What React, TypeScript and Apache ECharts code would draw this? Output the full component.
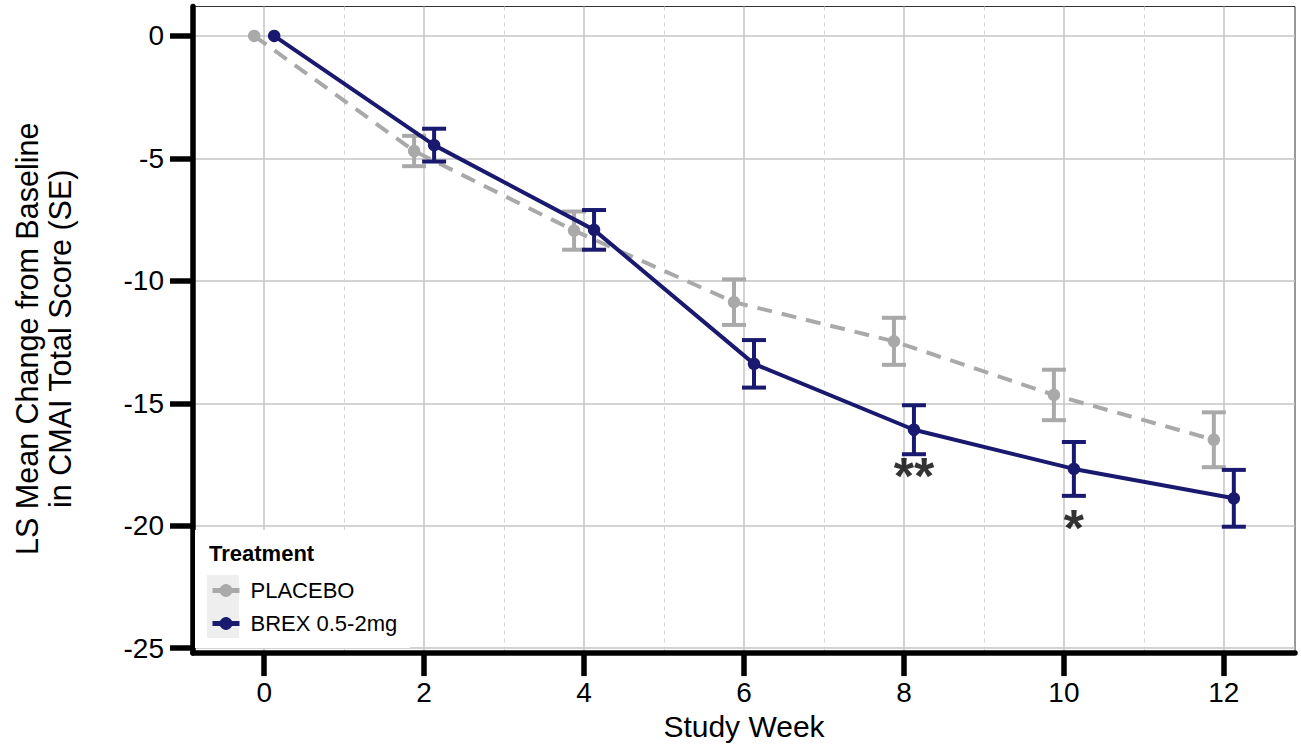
import React, { useEffect, useRef } from "react";
import * as echarts from "echarts";

const weeks = [0, 2, 4, 6, 8, 10, 12];
const placeboMean = [0, -4.7, -7.95, -10.87, -12.47, -14.66, -16.49];
const placeboSE = [0, 0.62, 0.78, 0.93, 0.96, 1.03, 1.12];
const brexMean = [0, -4.46, -7.92, -13.39, -16.08, -17.68, -18.88];
const brexSE = [0, 0.67, 0.81, 0.97, 1.0, 1.1, 1.16];
const annotWeeks = [8, 10];
const annotLabels = ["**", "*"];
const annotY = [-17.98, -20.1];
const xTicks = [0, 2, 4, 6, 8, 10, 12];
const xMinorTicks = [1, 3, 5, 7, 9, 11];
const yTicks = [-25, -20, -15, -10, -5, 0];
const seriesNames = ["PLACEBO", "BREX 0.5-2mg"];

const DODGE = 0.125;
const GRAY = "#a9a9a9";
const NAVY = "#191970";
const FONT = "Liberation Sans, Arial, sans-serif";

function errData(mean: number[], se: number[], off: number) {
  const out: number[][] = [];
  weeks.forEach((w, i) => {
    if (se[i] > 0) out.push([w + off, mean[i] - se[i], mean[i] + se[i]]);
  });
  return out;
}

function errSeries(name: string, data: number[][], color: string, z: number) {
  return {
    type: "custom",
    name,
    z,
    silent: true,
    data,
    encode: { x: 0, y: [1, 2] },
    renderItem: (params: any, api: any) => {
      const x = api.value(0);
      const lo = api.value(1);
      const hi = api.value(2);
      const t = api.coord([x, hi]);
      const b = api.coord([x, lo]);
      const hw = 12;
      const st = { stroke: color, lineWidth: 4 };
      return {
        type: "group",
        children: [
          { type: "line", shape: { x1: t[0], y1: t[1], x2: b[0], y2: b[1] }, style: st },
          { type: "line", shape: { x1: t[0] - hw, y1: t[1], x2: t[0] + hw, y2: t[1] }, style: st },
          { type: "line", shape: { x1: b[0] - hw, y1: b[1], x2: b[0] + hw, y2: b[1] }, style: st },
        ],
      };
    },
  };
}

export default function App() {
  const ref = useRef<HTMLDivElement>(null);
  useEffect(() => {
    if (!ref.current) return;
    const chart = echarts.init(ref.current, null, { renderer: "svg" });
    const xMin = -0.89;
    const xMax = 12.89;
    const option: any = {
      animation: false,
      backgroundColor: "#ffffff",
      textStyle: { fontFamily: FONT },
      grid: {
        left: 193,
        right: 6,
        top: 6.5,
        bottom: 90,
        containLabel: false,
        show: true,
        borderColor: "#333333",
        borderWidth: 1,
      },
      xAxis: [
        {
          type: "value",
          min: xMin,
          max: xMax,
          name: "Study Week",
          nameLocation: "middle",
          nameGap: 57,
          nameTextStyle: { fontSize: 30, color: "#000", fontFamily: FONT },
          axisLine: { show: true, onZero: false, lineStyle: { color: "#000", width: 5.5 } },
          axisTick: { show: true, customValues: xTicks, length: 23, lineStyle: { color: "#000", width: 5.5 } },
          axisLabel: { customValues: xTicks, margin: 25, fontSize: 28, color: "#000", fontFamily: FONT },
          splitLine: { show: true, lineStyle: { color: "#c4c4c4", width: 1.5 } },
        },
        {
          type: "value",
          min: xMin,
          max: xMax,
          position: "bottom",
          axisLine: { show: false },
          axisTick: { show: false, customValues: xMinorTicks },
          axisLabel: { show: false, customValues: xMinorTicks },
          splitLine: { show: true, lineStyle: { color: "#d4d4d4", width: 1, type: [4, 4] } },
        },
      ],
      yAxis: {
        type: "value",
        min: -25.2,
        max: 1.2,
        name: "LS Mean Change from Baseline\nin CMAI Total Score (SE)",
        nameLocation: "middle",
        nameRotate: 90,
        nameGap: 117,
        nameTextStyle: { fontSize: 30.5, color: "#000", lineHeight: 33, fontFamily: FONT, padding: [0, 18, 0, 0] },
        axisLine: { show: true, onZero: false, lineStyle: { color: "#000", width: 5.5 } },
        axisTick: { show: true, customValues: yTicks, length: 23, lineStyle: { color: "#000", width: 5.5 } },
        axisLabel: { customValues: yTicks, margin: 29, fontSize: 28, color: "#000", fontFamily: FONT },
        splitLine: { show: true, lineStyle: { color: "#c4c4c4", width: 1.5 } },
      },
      legend: {
        data: seriesNames,
        orient: "vertical",
        left: 210,
        top: 579.5,
        padding: 0,
        itemWidth: 27,
        itemHeight: 16,
        itemGap: 11,
        lineStyle: { type: "solid", width: 5 },
        textStyle: { fontSize: 22, color: "#000", lineHeight: 22, padding: [0, 0, 0, 6], fontFamily: FONT },
        selectedMode: false,
        z: 6,
      },
      graphic: [
        { type: "rect", z: 1, shape: { x: 195, y: 530, width: 215, height: 118 }, style: { fill: "#ffffff" }, silent: true },
        { type: "rect", z: 3, shape: { x: 207, y: 575, width: 32, height: 63 }, style: { fill: "#eeeeee" }, silent: true },
        {
          type: "text",
          z: 5,
          x: 209,
          y: 553,
          style: { text: "Treatment", fontSize: 22, fontWeight: "bold", fill: "#000", fontFamily: FONT, verticalAlign: "middle" },
          silent: true,
        },
      ],
      series: [
        {
          type: "line",
          name: seriesNames[0],
          z: 2,
          data: weeks.map((w, i) => [w - DODGE, placeboMean[i]]),
          symbol: "circle",
          symbolSize: 12.5,
          showSymbol: true,
          itemStyle: { color: GRAY },
          lineStyle: { color: GRAY, width: 4, type: [15, 10] },
          silent: true,
        },
        errSeries("placebo-se", errData(placeboMean, placeboSE, -DODGE), GRAY, 2),
        {
          type: "line",
          name: seriesNames[1],
          z: 3,
          data: weeks.map((w, i) => [w + DODGE, brexMean[i]]),
          symbol: "circle",
          symbolSize: 12.5,
          showSymbol: true,
          itemStyle: { color: NAVY },
          lineStyle: { color: NAVY, width: 4 },
          silent: true,
        },
        errSeries("brex-se", errData(brexMean, brexSE, DODGE), NAVY, 3),
        {
          type: "scatter",
          name: "annot",
          z: 4,
          symbolSize: 0,
          silent: true,
          data: annotWeeks.map((w, i) => ({ value: [w + DODGE, annotY[i]], label: { formatter: annotLabels[i] } })),
          label: {
            show: true,
            position: "inside",
            fontSize: 52,
            fontWeight: "bold",
            color: "#000",
            fontFamily: FONT,
          },
        },
      ],
    };
    chart.setOption(option);
    return () => chart.dispose();
  }, []);
  return <div ref={ref} style={{ width: 1301, height: 746, position: "absolute", left: 0, top: 0 }} />;
}
